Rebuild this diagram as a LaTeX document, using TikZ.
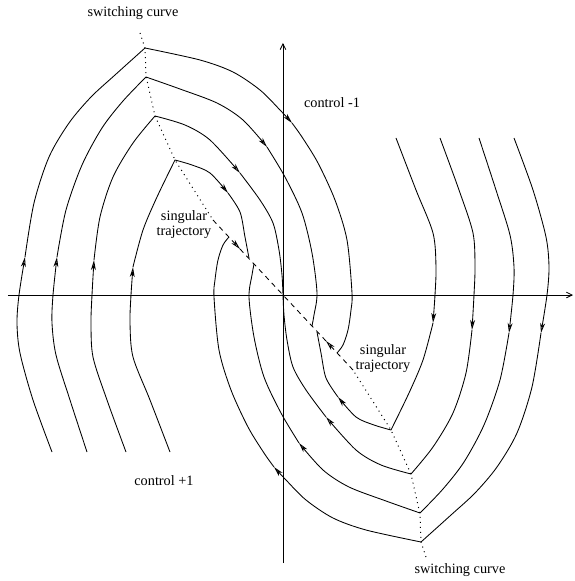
\documentclass[tikz,border=0pt]{standalone}
\usepackage{fontspec}
\setmainfont{Liberation Serif}
\usepackage{tikz}
\usetikzlibrary{arrows.meta}
\tikzset{
  trajline/.style={line width=0.6pt,line join=round},
  trajtip/.style={-{Stealth[open,length=7pt,width=3.4pt,inset=2pt]}},
  switchline/.style={line width=0.7pt,dash pattern=on 0.7pt off 2.8pt},
  singline/.style={line width=0.6pt,dash pattern=on 3.5pt off 3pt},
  axisline/.style={line width=0.6pt,-{Straight Barb[length=4pt,width=4pt]}},
  figurelabel/.style={font=\fontsize{10}{10.5}\selectfont,align=center,inner sep=0pt}
}

\begin{document}
\begin{tikzpicture}[x=0.7pt,y=0.7pt]
  \useasboundingbox (-283,-286) rectangle (292,295);
  \coordinate (O) at (0,0);
  \coordinate (xlo) at (-275,0);
  \coordinate (xhi) at (290,0);
  \coordinate (ylo) at (0,-268);
  \coordinate (yhi) at (0,252);
  \draw[axisline] (xlo) -- (xhi);
  \draw[axisline] (ylo) -- (yhi);
  % one family of trajectories, the other one is the same turned by 180 degrees
  \foreach \ang in {0,180}{
    \begin{scope}[rotate=\ang]
      % switching curve and singular arc
      \draw[switchline] (-143,262) -- (-138,247) -- (-137,219) -- (-128,179) -- (-108,135) -- (-70,75);
      \coordinate (sing) at (-43,46);
      \draw[singline,trajtip] (-70,75) -- (sing);
      \draw[singline] (sing) -- (O);
      % outer trajectory
      \draw[trajline,trajtip] plot[smooth] coordinates {(-231,-157) (-250,-105) (-263,-58) (-266,-28) (-264,0) (-258,38)};
      \draw[trajline,trajtip] plot[smooth] coordinates {(-258,38) (-249,92) (-234,138) (-214,172) (-192,198) (-168,220) (-138,247)}
        -- plot[smooth] coordinates {(-138,247) (-83,235) (-50,223) (-23,205) (-3,185) (9,172)};
      \draw[trajline] plot[smooth] coordinates {(9,172) (19,158) (35,132) (52,95) (64,55) (69,2) (68,-15) (65,-35) (60,-50) (54,-58)};
      % second trajectory
      \draw[trajline,trajtip] plot[smooth] coordinates {(-196,-157) (-213,-105) (-227,-60) (-231,-28) (-230,0) (-226,38)};
      \draw[trajline,trajtip] plot[smooth] coordinates {(-226,38) (-217,85) (-201,130) (-181,167) (-160,194) (-137,218)}
        -- plot[smooth] coordinates {(-137,218) (-103,206) (-66,192) (-40,175) (-16,148)};
      \draw[trajline] plot[smooth] coordinates {(-16,148) (2,118) (19,82) (29,42) (34,2) (31,-20) (29,-31)};
      % third trajectory, into the origin
      \draw[trajline,trajtip] plot[smooth] coordinates {(-157,-157) (-176,-105) (-190,-62) (-192,-28) (-191,0) (-189,35)};
      \draw[trajline,trajtip] plot[smooth] coordinates {(-189,35) (-183,78) (-170,118) (-150,152) (-128,179)}
        -- plot[smooth] coordinates {(-128,179) (-98,170) (-73,155) (-43,122)};
      \draw[trajline] plot[smooth] coordinates {(-43,122) (-23,95) (-10,72) (-4,45) (-1,20) (O)};
      % inner trajectory, onto the singular arc
      \draw[trajline,trajtip] plot[smooth] coordinates {(-113,-157) (-133,-105) (-150,-62) (-153,-28) (-152,0) (-150,28)};
      \draw[trajline,trajtip] plot[smooth] coordinates {(-150,28) (-140,65) (-126,98) (-108,135)}
        -- plot[smooth] coordinates {(-108,135) (-91,130) (-73,122) (-55,102)};
      \draw[trajline] plot[smooth] coordinates {(-55,102) (-43,83) (-38,58) (-34,37)};
    \end{scope}
  }
  \node[figurelabel] (swtop) at (-150,282) {switching curve};
  \node[figurelabel] (swbot) at (177,-275) {switching curve};
  \node[figurelabel] (ctrlminus) at (49,192) {control -1};
  \node[figurelabel] (ctrlplus) at (-119,-186) {control +1};
  \node[figurelabel] (singtop) at (-99,70) {singular\\trajectory};
  \node[figurelabel] (singbot) at (100,-64) {singular\\trajectory};
\end{tikzpicture}
\end{document}
